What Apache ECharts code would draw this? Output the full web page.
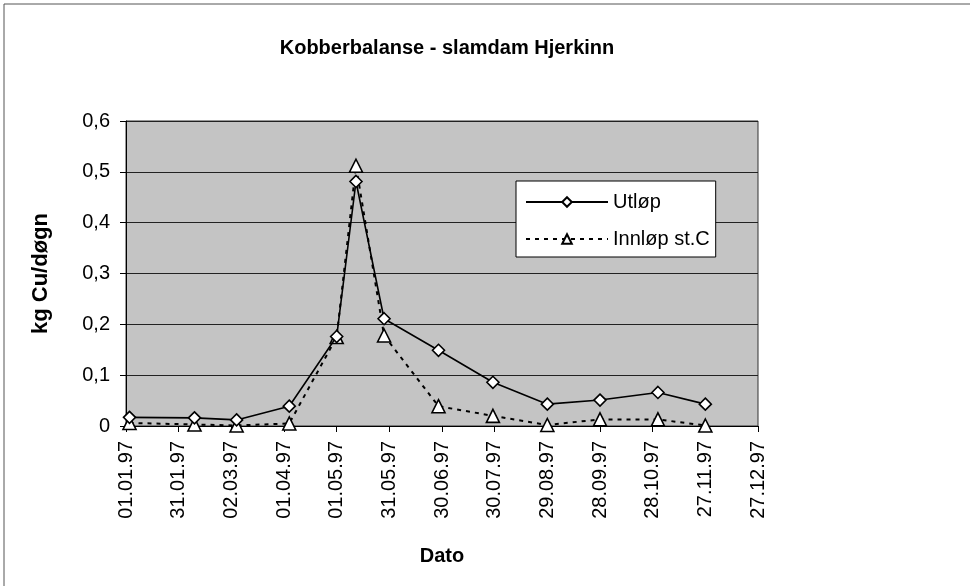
<!DOCTYPE html>
<html>
<head>
<meta charset="utf-8">
<title>Kobberbalanse - slamdam Hjerkinn</title>
<script src="https://cdn.jsdelivr.net/npm/echarts@6/dist/echarts.min.js"></script>
<style>
html, body { margin: 0; padding: 0; background: #fff; }
#chart { width: 970px; height: 586px; }
</style>
</head>
<body>
<div id="chart"></div>
<script>
// måledatoer (dd.mm.yy)
var datoer = ['03.01.97', '09.02.97', '05.03.97', '04.04.97', '01.05.97', '12.05.97', '28.05.97',
    '28.06.97', '29.07.97', '29.08.97', '28.09.97', '31.10.97', '27.11.97'];
// kg Cu/døgn
var utlop = [0.017, 0.016, 0.012, 0.039, 0.176, 0.481, 0.211, 0.149, 0.086, 0.043, 0.051, 0.066, 0.043];
var innlop = [0.006, 0.003, 0.001, 0.005, 0.175, 0.512, 0.178, 0.039, 0.020, 0.002, 0.013, 0.013, 0.001];
var serieNavn = ['Utløp', 'Innløp st.C'];

var start = Date.UTC(1997, 0, 1);
var DAG = 86400000;

// dato -> dager etter 01.01.97
function tilDag(s) {
    var p = s.split('.');
    return Math.round((Date.UTC(1900 + parseInt(p[2], 10), parseInt(p[1], 10) - 1, parseInt(p[0], 10)) - start) / DAG);
}
function tilDato(d) {
    var t = new Date(start + d * DAG);
    function to(n) { return (n < 10 ? '0' : '') + n; }
    return to(t.getUTCDate()) + '.' + to(t.getUTCMonth() + 1) + '.' + String(t.getUTCFullYear()).slice(2);
}
function par(verdier) {
    return datoer.map(function (s, i) { return [tilDag(s), verdier[i]]; });
}

var font = 'Liberation Sans, Arial, sans-serif';
var myChart = echarts.init(document.getElementById('chart'));
var option = {
    animation: false,
    backgroundColor: '#fff',
    title: {
        text: 'Kobberbalanse - slamdam Hjerkinn',
        left: 442,
        top: 33,
        textAlign: 'center',
        textStyle: { fontFamily: font, fontSize: 20, fontWeight: 'bold', color: '#000' }
    },
    graphic: [
        { type: 'line', shape: { x1: 4, y1: 4, x2: 970, y2: 4 }, style: { stroke: '#555', lineWidth: 1 } },
        { type: 'line', shape: { x1: 4, y1: 4, x2: 4, y2: 586 }, style: { stroke: '#555', lineWidth: 1 } }
    ],
    grid: {
        left: 126,
        top: 121,
        right: 212,
        bottom: 160,
        show: true,
        backgroundColor: '#c4c4c4',
        borderColor: '#333',
        borderWidth: 1
    },
    legend: {
        orient: 'vertical',
        left: 516,
        top: 181,
        padding: [11, 6, 8, 9],
        itemGap: 17,
        itemWidth: 82,
        itemHeight: 12,
        backgroundColor: '#fff',
        borderColor: '#000',
        borderWidth: 1,
        textStyle: { fontFamily: font, fontSize: 20, color: '#000' },
        data: serieNavn
    },
    xAxis: {
        type: 'value',
        min: 0,
        max: 360,
        interval: 30,
        name: 'Dato',
        nameLocation: 'middle',
        nameGap: 120,
        nameTextStyle: { fontFamily: font, fontSize: 20, fontWeight: 'bold', color: '#000' },
        axisLine: { lineStyle: { color: '#000', width: 1 } },
        axisTick: { show: true, length: 6, lineStyle: { color: '#000' } },
        splitLine: { show: false },
        axisLabel: {
            rotate: 90,
            margin: 15,
            fontFamily: font,
            fontSize: 20,
            color: '#000',
            formatter: function (v) { return tilDato(v); }
        }
    },
    yAxis: {
        type: 'value',
        min: 0,
        max: 0.6,
        interval: 0.1,
        name: 'kg Cu/døgn',
        nameLocation: 'middle',
        nameGap: 74,
        nameRotate: 90,
        nameTextStyle: { fontFamily: font, fontSize: 22, fontWeight: 'bold', color: '#000' },
        axisLine: { show: true, lineStyle: { color: '#000', width: 1 } },
        axisTick: { show: true, length: 6, lineStyle: { color: '#000' } },
        splitLine: { lineStyle: { color: '#222', width: 1 } },
        axisLabel: {
            margin: 16,
            fontFamily: font,
            fontSize: 20,
            color: '#000',
            formatter: function (v) { return String(Math.round(v * 10) / 10).replace('.', ','); }
        }
    },
    series: [
        {
            name: serieNavn[0],
            type: 'line',
            data: par(utlop),
            symbol: 'path://M0,-1L1,0L0,1L-1,0Z',
            symbolSize: 12,
            showAllSymbol: true,
            z: 3,
            lineStyle: { color: '#000', width: 1.6, type: 'solid' },
            itemStyle: { color: '#fff', borderColor: '#000', borderWidth: 1.6 }
        },
        {
            name: serieNavn[1],
            type: 'line',
            data: par(innlop),
            symbol: 'triangle',
            symbolSize: 13,
            showAllSymbol: true,
            z: 2,
            lineStyle: { color: '#000', width: 2, type: [4, 5] },
            itemStyle: { color: '#fff', borderColor: '#000', borderWidth: 1.6 }
        }
    ]
};
myChart.setOption(option);
window.addEventListener('resize', function () {
    myChart.resize();
});
</script>
</body>
</html>
